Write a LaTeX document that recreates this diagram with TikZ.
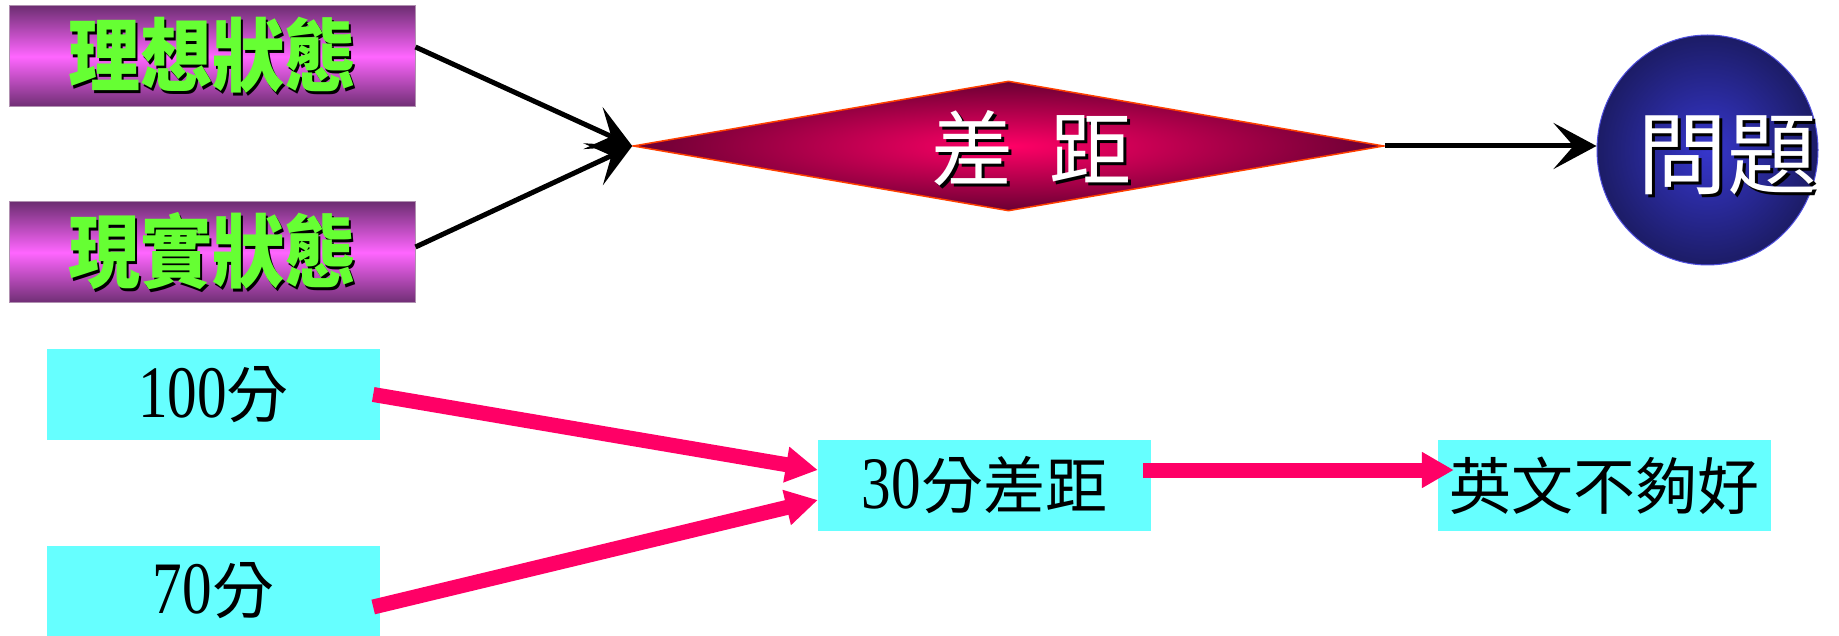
\documentclass[tikz,border=0pt]{standalone}
\usepackage{fontspec}
\usepackage{graphicx}
\usetikzlibrary{shapes.geometric,arrows.meta}
\newfontfamily\cjk{Noto Sans CJK TC}
\newfontfamily\digits{Liberation Serif}
\definecolor{cyanbox}{HTML}{66FFFF}
\definecolor{pinkarr}{HTML}{FF0066}
\definecolor{greentxt}{HTML}{66FF33}
\definecolor{pdark}{HTML}{6E2E73}
\definecolor{pmid}{HTML}{FF66FF}
\definecolor{pedge}{HTML}{B090B0}
\definecolor{dmid}{HTML}{FF0066}
\definecolor{ddark}{HTML}{6A0033}
\definecolor{dedge}{HTML}{FF4000}
\definecolor{emid}{HTML}{3636CC}
\definecolor{edark}{HTML}{1C1C66}
\definecolor{eedge}{HTML}{5050E0}
\newcommand\shtext[3]{\makebox[0pt][l]{\hspace*{#2}\raisebox{-#2}{\color{black}#3}}{\color{#1}#3}}
\newcommand\dg[1]{{\digits\fontsize{74}{74}\selectfont\scalebox{0.8}[1]{#1}}}
\newcommand\narrow[1]{\scalebox{0.9}[1]{#1}}
\begin{document}
\begin{tikzpicture}[x=1pt,y=-1pt,
  statebox/.style={rectangle, minimum width=406pt, minimum height=101pt, inner sep=0pt,
    top color=pdark, bottom color=pdark, middle color=pmid, draw=pedge, line width=1pt,
    font=\cjk\bfseries\fontsize{80}{80}\selectfont},
  scorebox/.style={rectangle, fill=cyanbox, minimum width=333pt, minimum height=91pt,
    inner sep=0pt, font=\cjk\fontsize{62}{62}\selectfont},
  diamondshape/.style={diamond, aspect=5.8, minimum width=751pt, minimum height=130pt,
    inner sep=0pt, draw=dedge, line width=1.5pt, inner color=dmid, outer color=ddark},
  ellipseshape/.style={ellipse, minimum width=221pt, minimum height=230pt, inner sep=0pt,
    draw=eedge, line width=1pt, inner color=emid, outer color=edark},
  whitetext/.style={inner sep=0pt, font=\cjk\fontsize{82}{82}\selectfont},
  blackarrow/.style={line width=5pt, -{Stealth[length=43pt,width=46pt,inset=20pt]}},
  pinkarrow/.style={draw=pinkarr, line width=15pt, -{Triangle[length=32pt,width=34pt]}},
]
\useasboundingbox (0,0) rectangle (1839,636);
% top row
\node[statebox] (A) at (212,56.5) {\narrow{\shtext{greentxt}{3pt}{理想狀態}}};
\node[statebox] (B) at (212,252.5) {\narrow{\shtext{greentxt}{3pt}{現實狀態}}};
\node[diamondshape] (D) at (1008.5,146) {};
\node[whitetext] (Dt) at ([xshift=23pt,yshift=-4pt]D.center) {\shtext{white}{3pt}{差\hspace{0.45em}距}};
\node[ellipseshape] (E) at (1707.5,150) {};
\node[whitetext, font=\cjk\fontsize{90}{90}\selectfont] (Et) at ([xshift=20pt,yshift=-7pt]E.center) {\shtext{white}{3pt}{問題}};
\draw[blackarrow] ([yshift=9.5pt]A.east) -- (D.west);
\draw[blackarrow] ([yshift=5.5pt]B.east) -- (D.west);
\draw[blackarrow] (D.east) -- (D.east -| E.west);
% bottom row
\node[scorebox] (P) at (213.5,394.5) {\dg{100}分};
\node[scorebox] (Q) at (213.5,591) {\dg{70}分};
\node[scorebox] (C) at (984.5,485.5) {\dg{30}分差距};
\node[scorebox] (F) at (1604.5,485.5) {英文不夠好};
\draw[pinkarrow] ([xshift=-7pt]P.east) -- ([yshift=15.5pt]C.west);
\draw[pinkarrow] ([xshift=-7pt,yshift=-16pt]Q.east) -- ([yshift=-14.5pt]C.west);
\draw[pinkarrow] ([xshift=-8pt,yshift=15.5pt]C.east) -- ([xshift=16pt,yshift=15.5pt]F.west);
\end{tikzpicture}
\end{document}
